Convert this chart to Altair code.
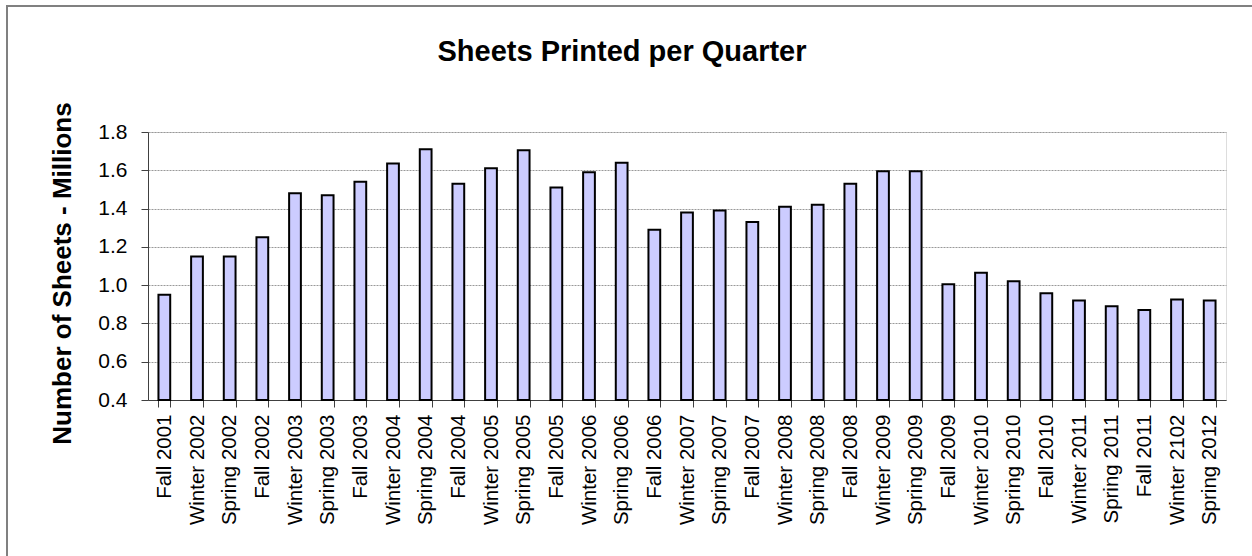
import altair as alt
import pandas as pd

quarters = [
    "Fall 2001", "Winter 2002", "Spring 2002", "Fall 2002", "Winter 2003", "Spring 2003",
    "Fall 2003", "Winter 2004", "Spring 2004", "Fall 2004", "Winter 2005", "Spring 2005",
    "Fall 2005", "Winter 2006", "Spring 2006", "Fall 2006", "Winter 2007", "Spring 2007",
    "Fall 2007", "Winter 2008", "Spring 2008", "Fall 2008", "Winter 2009", "Spring 2009",
    "Fall 2009", "Winter 2010", "Spring 2010", "Fall 2010", "Winter 2011", "Spring 2011",
    "Fall 2011", "Winter 2102", "Spring 2012",
]
sheets_millions = [
    0.95, 1.15, 1.15, 1.25, 1.48, 1.47,
    1.54, 1.635, 1.71, 1.53, 1.61, 1.705,
    1.51, 1.59, 1.64, 1.29, 1.38, 1.39,
    1.33, 1.41, 1.42, 1.53, 1.595, 1.595,
    1.005, 1.065, 1.02, 0.957, 0.92, 0.89,
    0.87, 0.925, 0.92,
]

df = pd.DataFrame({"quarter": quarters, "sheets": sheets_millions})

FONT = "Liberation Sans"

bars = alt.Chart(df).mark_bar(
    fill="#CCCCFF", stroke="black", strokeWidth=2
).encode(
    x=alt.X(
        "quarter:N",
        sort=quarters,
        title=None,
        scale=alt.Scale(paddingInner=0.64, paddingOuter=0.32),
        axis=alt.Axis(
            labelAngle=270,
            labelFont=FONT,
            labelFontSize=20.5,
            labelColor="black",
            labelPadding=7,
            tickBand="extent",
            tickSize=7,
            tickColor="#404040",
            domainColor="#404040",
            grid=False,
        ),
    ),
    y=alt.Y(
        "sheets:Q",
        scale=alt.Scale(domain=[0.4, 1.8], nice=False, zero=False),
        title="Number of Sheets - Millions",
        axis=alt.Axis(
            values=[0.4, 0.6, 0.8, 1.0, 1.2, 1.4, 1.6, 1.8],
            format=".1f",
            labelFont=FONT,
            labelFontSize=21,
            labelColor="black",
            labelPadding=14,
            tickSize=7,
            tickColor="#404040",
            domainColor="#404040",
            grid=True,
            gridColor="#999999",
            gridDash=[2, 1],
            gridWidth=1,
            titleFont=FONT,
            titleFontSize=26,
            titleFontWeight="bold",
            titleColor="black",
            titleAngle=270,
            titleAlign="center",
            titleBaseline="middle",
            titleX=-86,
            titleY=141,
        ),
    ),
    y2=alt.datum(0.4),
)

border = alt.Chart(df).mark_rect(
    fill=None, stroke="#808080", strokeWidth=2
).encode(
    x=alt.value(-141),
    x2=alt.value(1130),
    y=alt.value(-126),
    y2=alt.value(440),
)

chart = alt.layer(border, bars).properties(
    width=1078,
    height=268,
    title=alt.TitleParams(
        text="Sheets Printed per Quarter",
        font=FONT,
        fontSize=29,
        fontWeight="bold",
        color="black",
        anchor="middle",
        frame="group",
        baseline="alphabetic",
        offset=20,
        dx=-65,
        dy=105,
    ),
    autosize=alt.AutoSizeParams(type="none"),
    padding={"left": 148, "top": 132, "right": 26, "bottom": 156},
).configure_view(stroke=None).configure(background="white")

chart.save("out.html", embed_options={"renderer": "svg", "actions": False})
